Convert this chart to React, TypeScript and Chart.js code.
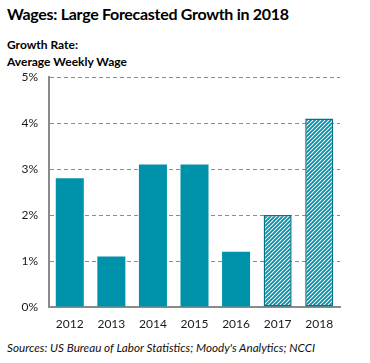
import React, { useEffect, useRef } from "react";
import { Chart, registerables } from "chart.js";
Chart.register(...registerables);

const years = ["2012", "2013", "2014", "2015", "2016", "2017", "2018"];
const growth = [2.8, 1.1, 3.1, 3.1, 1.2, 2.0, 4.1];
const forecast = [false, false, false, false, false, true, true];
const yMax = 5;

const TEAL = "#0092AA";
const TEAL_DARK = "#00728A";
const FONT = "Lato, 'Open Sans', sans-serif";

export default function App() {
  const ref = useRef<HTMLCanvasElement>(null);
  useEffect(() => {
    document.body.style.margin = "0";
    const canvas = ref.current!;
    const ctx = canvas.getContext("2d")!;
    const pc = document.createElement("canvas");
    pc.width = 4;
    pc.height = 4;
    const p = pc.getContext("2d")!;
    p.fillStyle = "#ffffff";
    p.fillRect(0, 0, 4, 4);
    p.strokeStyle = TEAL;
    p.lineWidth = 1.9;
    p.beginPath();
    p.moveTo(-1, 1);
    p.lineTo(1, -1);
    p.moveTo(0, 4);
    p.lineTo(4, 0);
    p.moveTo(3, 5);
    p.lineTo(5, 3);
    p.stroke();
    const pattern = ctx.createPattern(pc, "repeat")!;

    const chart = new Chart(ctx, {
      type: "bar",
      data: {
        labels: years,
        datasets: [
          {
            data: growth,
            backgroundColor: forecast.map((f) => (f ? pattern : TEAL)),
            borderColor: forecast.map((f) => (f ? TEAL_DARK : TEAL)),
            borderWidth: forecast.map((f) => (f ? 1.5 : 0)),
            borderSkipped: false,
            barPercentage: 0.674,
            categoryPercentage: 1,
          },
        ],
      },
      options: {
        responsive: false,
        animation: false,
        devicePixelRatio: 1,
        layout: { padding: { top: 7, right: 30, left: 0, bottom: 0 } },
        plugins: { legend: { display: false }, tooltip: { enabled: false }, title: { display: false } },
        scales: {
          x: {
            grid: { display: false, drawTicks: false },
            border: { display: true, color: "#8a8a8a", width: 2 },
            ticks: { color: "#1a1a1a", font: { family: FONT, size: 12 }, padding: 10 },
            afterFit: (s: any) => {
              s.height = 30;
            },
          },
          y: {
            min: 0,
            max: yMax,
            ticks: {
              stepSize: 1,
              color: "#1a1a1a",
              font: { family: FONT, size: 12 },
              padding: 11,
              callback: (v: any) => v + "%",
            },
            grid: {
              drawTicks: false,
              color: (c: any) => (c.tick && c.tick.value === 0 ? "rgba(0,0,0,0)" : "#8c8c8c"),
              lineWidth: 1,
            },
            border: { display: true, color: "#8a8a8a", width: 2, dash: [4, 3] },
            afterFit: (s: any) => {
              s.width = 49;
            },
          },
        },
      },
    });
    return () => chart.destroy();
  }, []);

  return (
    <div style={{ position: "relative", width: 370, height: 363, background: "#fff", fontFamily: FONT, color: "#000" }}>
      <div style={{ position: "absolute", left: 7, top: 4, fontSize: 16, fontWeight: 700, letterSpacing: "-0.3px", whiteSpace: "nowrap" }}>
        Wages: Large Forecasted Growth in 2018
      </div>
      <div style={{ position: "absolute", left: 7, top: 36, fontSize: 12, fontWeight: 700, lineHeight: "17px", whiteSpace: "nowrap" }}>
        Growth Rate:
        <br />
        Average Weekly Wage
      </div>
      <canvas ref={ref} width={370} height={278} style={{ position: "absolute", left: 0, top: 59 }} />
      <div style={{ position: "absolute", left: 7, top: 340, fontSize: 11.7, fontStyle: "italic", whiteSpace: "nowrap", color: "#111" }}>
        Sources: US Bureau of Labor Statistics; Moody's Analytics; NCCI
      </div>
    </div>
  );
}
